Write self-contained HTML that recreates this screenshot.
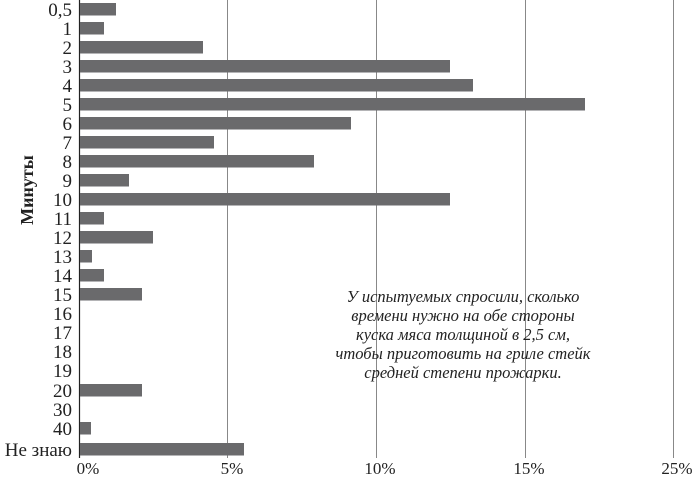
<!DOCTYPE html>
<html><head><meta charset="utf-8"><style>body{margin:0;background:#fff}</style></head><body>
<svg width="700" height="477" xmlns="http://www.w3.org/2000/svg" font-family="'Liberation Serif',serif">
<rect width="700" height="477" fill="#fff"/>
<g stroke="#888" stroke-width="1">
<line x1="227.5" y1="0" x2="227.5" y2="458"/>
<line x1="376.5" y1="0" x2="376.5" y2="458"/>
<line x1="525.5" y1="0" x2="525.5" y2="458"/>
<line x1="673.5" y1="0" x2="673.5" y2="458"/>
</g>
<line x1="79.5" y1="0" x2="79.5" y2="458" stroke="#222" stroke-width="1.2"/>
<g fill="#6a6a6c">
<rect x="80" y="3" width="36" height="12.5"/>
<rect x="80" y="22" width="24" height="12.5"/>
<rect x="80" y="41" width="123" height="12.5"/>
<rect x="80" y="60" width="370" height="12.5"/>
<rect x="80" y="79" width="393" height="12.5"/>
<rect x="80" y="98" width="505" height="12.5"/>
<rect x="80" y="117" width="271" height="12.5"/>
<rect x="80" y="136" width="134" height="12.5"/>
<rect x="80" y="155" width="234" height="12.5"/>
<rect x="80" y="174" width="49" height="12.5"/>
<rect x="80" y="193" width="370" height="12.5"/>
<rect x="80" y="212" width="24" height="12.5"/>
<rect x="80" y="231" width="73" height="12.5"/>
<rect x="80" y="250" width="12" height="12.5"/>
<rect x="80" y="269" width="24" height="12.5"/>
<rect x="80" y="288" width="62" height="12.5"/>
<rect x="80" y="384" width="62" height="12.5"/>
<rect x="80" y="422" width="11" height="12.5"/>
<rect x="80" y="443" width="164" height="12.5"/>
</g>
<g font-size="19" fill="#222" text-anchor="end">
<text x="72" y="16">0,5</text><text x="72" y="35">1</text><text x="72" y="54">2</text><text x="72" y="73">3</text>
<text x="72" y="92">4</text><text x="72" y="111">5</text><text x="72" y="130">6</text><text x="72" y="149">7</text>
<text x="72" y="168">8</text><text x="72" y="187">9</text><text x="72" y="206">10</text><text x="72" y="225">11</text>
<text x="72" y="244">12</text><text x="72" y="263">13</text><text x="72" y="282">14</text><text x="72" y="301">15</text>
<text x="72" y="320">16</text><text x="72" y="339">17</text><text x="72" y="358">18</text><text x="72" y="377">19</text>
<text x="72" y="397">20</text><text x="72" y="416">30</text><text x="72" y="435">40</text><text x="72" y="456">Не знаю</text>
</g>
<g font-size="17" fill="#222" text-anchor="middle">
<text x="88" y="474">0%</text><text x="232" y="474">5%</text><text x="380" y="474">10%</text>
<text x="529" y="474">15%</text><text x="677" y="474">25%</text>
</g>
<text transform="translate(33,190) rotate(-90)" font-size="18" font-weight="bold" text-anchor="middle" fill="#222">Минуты</text>
<g font-size="16.5" font-style="italic" fill="#222" text-anchor="middle">
<text x="463" y="302">У испытуемых спросили, сколько</text>
<text x="463" y="321">времени нужно на обе стороны</text>
<text x="463" y="340">куска мяса толщиной в 2,5 см,</text>
<text x="463" y="359">чтобы приготовить на гриле стейк</text>
<text x="463" y="378">средней степени прожарки.</text>
</g>
</svg>
</body></html>
